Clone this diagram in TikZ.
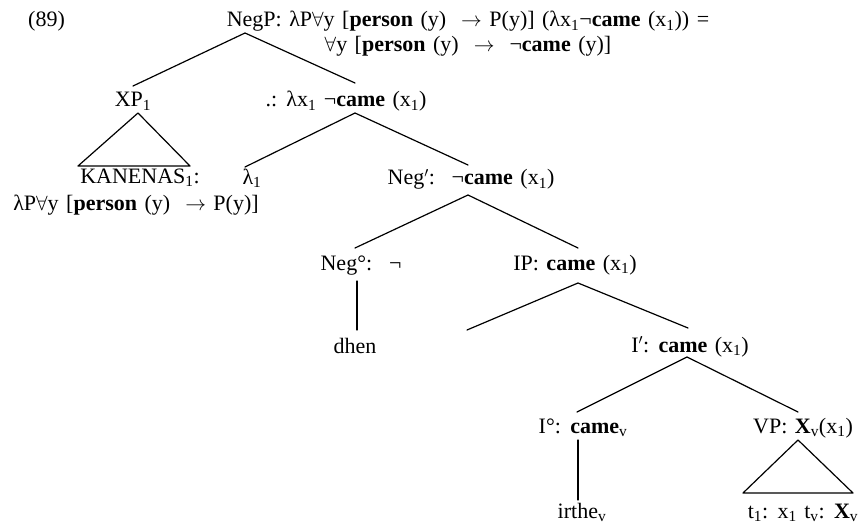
\documentclass[tikz,border=0pt]{standalone}
\usepackage{fontspec}
\setmainfont{Liberation Serif}
\newcommand\lo[1]{\textsubscript{#1}}
\newcommand\lblfont{\fontsize{22}{25}\selectfont\spaceskip=7.5pt plus 2pt minus 1pt\relax}
\begin{document}
\begin{tikzpicture}[x=1pt,y=-1pt,
  lbl/.style={anchor=base, inner sep=0pt, align=center, font=\lblfont},
  br/.style={line width=1.2pt, line cap=round, line join=round}]
\useasboundingbox (0,0) rectangle (865,524);
% labels
\node[lbl, anchor=base west] (ex) at (28,27) {(89)};
\node[lbl] (negp) at (468,52) {NegP: λP$\forall$y [\textbf{person} (y) \ $\rightarrow$ P(y)] (λx\lo{1}¬\textbf{came} (x\lo{1})) =\\ $\forall$y [\textbf{person} (y) \ $\rightarrow$ \ ¬\textbf{came} (y)]};
\node[lbl] (xp) at (133,107) {XP\lo{1}};
\node[lbl] (dot) at (346,107) {.: λx\lo{1} ¬\textbf{came} (x\lo{1})};
\node[lbl] (kan) at (140,183) {KANENAS\lo{1}:};
\node[lbl] (kansem) at (136,210) {λP$\forall$y [\textbf{person} (y) \ $\rightarrow$ P(y)]};
\node[lbl] (lam) at (252,184) {λ\lo{1}};
\node[lbl] (negbar) at (471,185) {Neg$'$: \ ¬\textbf{came} (x\lo{1})};
\node[lbl] (neg0) at (361,270) {Neg°: \ ¬};
\node[lbl] (ip) at (575,270) {IP: \textbf{came} (x\lo{1})};
\node[lbl] (dhen) at (355,353) {dhen};
\node[lbl] (ibar) at (690,352) {I$'$: \textbf{came} (x\lo{1})};
\node[lbl] (i0) at (583,433) {I°: \textbf{came}\lo{v}};
\node[lbl] (vp) at (803,433) {VP: \textbf{X}\lo{v}(x\lo{1})};
\node[lbl] (irthe) at (582,518) {irthe\lo{v}};
\node[lbl] (tt) at (803,518) {t\lo{1}: x\lo{1} t\lo{v}: \textbf{X}\lo{v}};
% attachment points
\coordinate (negp-s) at (245,33);
\coordinate (xp-n) at (133,86);
\coordinate (dot-n) at (355,83);
\coordinate (xp-s) at (138,113);
\coordinate (kan-nw) at (78,166);
\coordinate (kan-ne) at (190,166);
\coordinate (dot-s) at (355,113);
\coordinate (lam-n) at (245,167);
\coordinate (negbar-n) at (468,165);
\coordinate (negbar-s) at (468,195);
\coordinate (neg0-n) at (355,248);
\coordinate (ip-n) at (578,248);
\coordinate (neg0-s) at (357,281);
\coordinate (dhen-n) at (357,330);
\coordinate (ip-s) at (578,283);
\coordinate (ipl-end) at (467,330);
\coordinate (ibar-n) at (688,328);
\coordinate (ibar-s) at (687,357);
\coordinate (i0-n) at (577,412);
\coordinate (vp-n) at (798,412);
\coordinate (i0-s) at (578,440);
\coordinate (irthe-n) at (578,500);
\coordinate (vp-s) at (798,440);
\coordinate (tt-nw) at (743,493);
\coordinate (tt-ne) at (853,493);
% branches
\draw[br] (xp-n) -- (negp-s) -- (dot-n);
\draw[br] (kan-nw) -- (xp-s) -- (kan-ne) -- cycle;
\draw[br] (lam-n) -- (dot-s) -- (negbar-n);
\draw[br] (neg0-n) -- (negbar-s) -- (ip-n);
\draw[br] (neg0-s) -- (dhen-n);
\draw[br] (ipl-end) -- (ip-s) -- (ibar-n);
\draw[br] (i0-n) -- (ibar-s) -- (vp-n);
\draw[br] (i0-s) -- (irthe-n);
\draw[br] (tt-nw) -- (vp-s) -- (tt-ne) -- cycle;
\end{tikzpicture}
\end{document}
